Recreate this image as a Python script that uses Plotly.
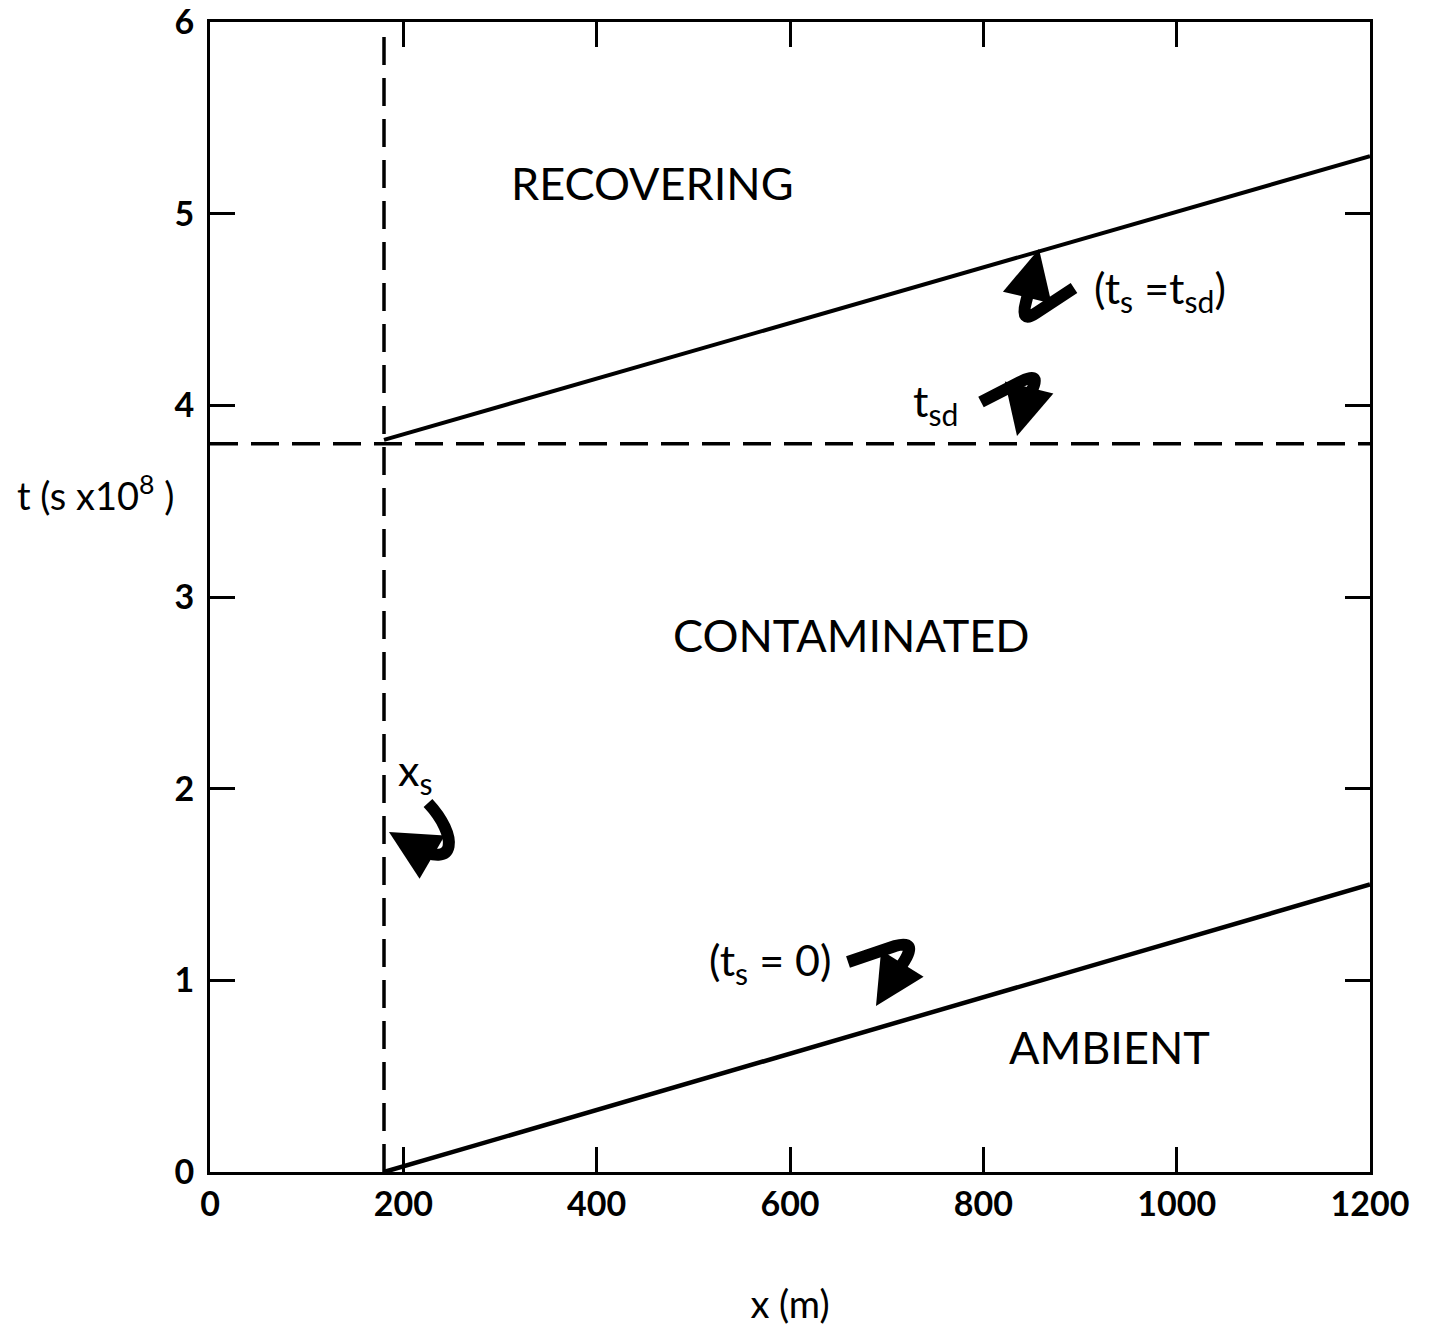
import plotly.graph_objects as go

# ---- data ----
x_range = [0, 1200]
t_range = [0, 6]
x_ticks = [0, 200, 400, 600, 800, 1000, 1200]
t_ticks = [0, 1, 2, 3, 4, 5, 6]

x_s = 180          # source position (m)
t_sd = 3.8         # shut-down time (s x 1e8)

lower_x = [180, 1200]   # t_s = 0 front
lower_t = [0.0, 1.5]
upper_x = [180, 1200]   # t_s = t_sd front
upper_t = [3.82, 5.3]

region_labels = ["RECOVERING", "CONTAMINATED", "AMBIENT"]
region_x = [458, 664, 931]
region_t = [5.16, 2.80, 0.65]

FONT = "Lato"
W, H = 1430, 1331
L, T = 210, 22
PW, PH = 1160, 1150
R = W - L - PW
B = H - T - PH


def dx(px):
    return (px - L) / PW * (x_range[1] - x_range[0])


def dy(py):
    return (T + PH - py) / PH * (t_range[1] - t_range[0])


def P(pt):
    return "{} {}".format(dx(pt[0]), dy(pt[1]))


fig = go.Figure()

# dashed lines
fig.add_trace(go.Scatter(x=[x_s, x_s], y=[0, 5.97], mode="lines",
                         line=dict(color="black", width=3.5, dash="28px,13px"),
                         hoverinfo="skip", showlegend=False))
fig.add_trace(go.Scatter(x=[0, 1200], y=[t_sd, t_sd], mode="lines",
                         line=dict(color="black", width=3.5, dash="28px,13px"),
                         hoverinfo="skip", showlegend=False))
# solid fronts
fig.add_trace(go.Scatter(x=lower_x, y=lower_t, mode="lines",
                         line=dict(color="black", width=4.5),
                         hoverinfo="skip", showlegend=False))
fig.add_trace(go.Scatter(x=upper_x, y=upper_t, mode="lines",
                         line=dict(color="black", width=4),
                         hoverinfo="skip", showlegend=False))

# region labels
for txt, xx, tt in zip(region_labels, region_x, region_t):
    fig.add_annotation(x=xx, y=tt, text=txt, showarrow=False,
                       font=dict(family=FONT, size=45, color="black"))

# hook-shaped arrows (decoration), pixel coordinates converted to axis units
arrow_bodies = [
    "M {} L {} Q {} {} L {}".format(P((1074, 288)), P((1036, 313)), P((1020, 324)),
                                    P((1026, 302)), P((1031, 282))),
    "M {} L {} Q {} {} L {}".format(P((981, 402)), P((1022, 381)), P((1042, 371)),
                                    P((1031, 392)), P((1024, 408))),
    "M {} C {} {} {}".format(P((428, 803)), P((458, 835)), P((458, 872)), P((413, 846))),
    "M {} L {} Q {} {} L {}".format(P((848, 962)), P((895, 946)), P((917, 940)),
                                    P((905, 960)), P((894, 977))),
]
arrow_heads = [  # (base, tip)
    ((1031, 282), (1039, 249)),
    ((1024, 408), (1017, 436)),
    ((413, 846), (389, 832)),
    ((894, 977), (876, 1006)),
]
for path in arrow_bodies:
    fig.add_shape(type="path", path=path, xref="x", yref="y",
                  line=dict(color="black", width=12), layer="above")
for base, tip in arrow_heads:
    fig.add_annotation(x=dx(tip[0]), y=dy(tip[1]), ax=base[0] - tip[0], ay=base[1] - tip[1],
                       text="", showarrow=True, arrowhead=2, arrowsize=1.0,
                       arrowwidth=10, arrowcolor="black", xref="x", yref="y")

# small labels
small = [
    ("(t<sub>s</sub> =t<sub>sd</sub>)", 1160, 290),
    ("t<sub>sd</sub>", 935, 403),
    ("x<sub>s</sub>", 415, 772),
    ("(t<sub>s</sub> = 0)", 770, 962),
]
for txt, px, py in small:
    fig.add_annotation(x=dx(px), y=dy(py), text=txt, showarrow=False,
                       font=dict(family=FONT, size=43, color="black"))

# y axis label
fig.add_annotation(xref="paper", yref="paper", x=(95 - L) / PW, y=(T + PH - 493) / PH,
                   xanchor="center", yanchor="middle",
                   text="t (s x10<sup>8</sup> )", showarrow=False,
                   font=dict(family=FONT, size=38, color="black"))

fig.update_xaxes(range=x_range, tickvals=x_ticks, ticktext=[str(v) for v in x_ticks],
                 showgrid=False, zeroline=False, showline=True, linecolor="black",
                 linewidth=3, mirror="ticks", ticks="inside", ticklen=25, tickwidth=3,
                 tickcolor="black", automargin=False, ticklabeloverflow="allow",
                 tickfont=dict(family=FONT, size=34, color="black", weight="bold"),
                 title=dict(text="x (m)", standoff=70,
                            font=dict(family=FONT, size=38, color="black")))
fig.update_yaxes(range=t_range, tickvals=t_ticks, ticktext=[str(v) for v in t_ticks],
                 showgrid=False, zeroline=False, showline=True, linecolor="black",
                 linewidth=3, mirror="ticks", ticks="inside", ticklen=25, tickwidth=3,
                 tickcolor="black", automargin=False, ticklabelstandoff=6,
                 ticklabeloverflow="allow",
                 tickfont=dict(family=FONT, size=34, color="black", weight="bold"))

fig.update_layout(width=W, height=H, margin=dict(l=L, r=R, t=T, b=B),
                  paper_bgcolor="white", plot_bgcolor="white",
                  font=dict(family=FONT, color="black"))

fig.write_html("out.html", config={"displayModeBar": False},
               post_script="document.body.style.margin='0';"
                           "document.body.style.overflow='hidden';")
